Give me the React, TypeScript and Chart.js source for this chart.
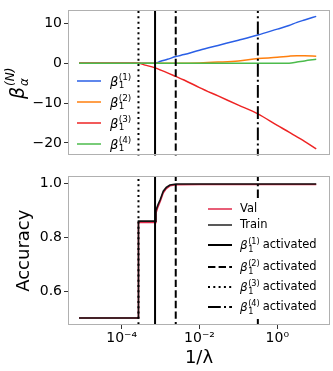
import React, { useEffect, useRef } from "react";
import { Chart, registerables } from "chart.js";

Chart.register(...registerables);

// ---- data ----
const lambdaInv = [8e-6, 3e-5, 1e-4, 2.7e-4, 4e-4, 7.2e-4, 1e-3, 1.5e-3, 2.45e-3, 4e-3, 1e-2, 3e-2, 0.1, 0.316, 1, 2, 3.2, 5, 10];
const beta1 = [0, 0, 0, 0, 0, 0, 0.5, 1.0, 1.7, 2.2, 3.3, 4.5, 5.8, 7.1, 8.6, 9.5, 10.3, 10.9, 11.8];
const beta2 = [0, 0, 0, 0, 0, 0, 0, 0, 0, 0.03, 0.1, 0.3, 0.6, 1.2, 1.5, 1.8, 1.92, 1.9, 1.8];
const beta3 = [0, 0, 0, 0, -0.45, -1.15, -1.7, -2.4, -3.3, -4.2, -6.1, -8.2, -10.5, -12.7, -15.6, -17.3, -18.5, -19.6, -21.5];
const beta4 = [0, 0, 0, 0, 0, 0, 0, 0, 0, 0, 0, 0, 0, 0, 0, 0.02, 0.3, 0.6, 1.0];

const accX = [8e-6, 2.7e-4, 2.7e-4, 7.2e-4, 7.6e-4, 8.5e-4, 9.8e-4, 1.17e-3, 1.4e-3, 1.74e-3, 2.5e-3, 1e-2, 0.1, 1, 10];
const trainAcc = [0.5, 0.5, 0.86, 0.86, 0.9, 0.92, 0.94, 0.971, 0.985, 0.994, 0.998, 0.998, 0.998, 0.998, 0.998];
const valAcc = [0.5, 0.5, 0.855, 0.855, 0.89, 0.912, 0.934, 0.965, 0.981, 0.991, 0.995, 0.996, 0.996, 0.996, 0.996];

// activation points of beta_1^(1..4)
const activation = [7.2e-4, 2.45e-3, 2.7e-4, 0.316];

const xTicks = [1e-4, 1e-2, 1];
const xTickLabels = ["10\u207B\u2074", "10\u207B\u00B2", "10\u2070"];
const betaTicks = [-20, -10, 0, 10];
const betaTickLabels = ["\u221220", "\u221210", "0", "10"];
const accTicks = [0.6, 0.8, 1.0];
const accTickLabels = ["0.6", "0.8", "1.0"];

const betaNames = ["1", "2", "3", "4"];
const betaColors = ["#2a5fe6", "#ff7f0e", "#ee2424", "#4cbb4c"];
const actDashes: number[][] = [[], [7.4, 3.2], [2, 3.3], [12.8, 3.2, 2, 3.2]];

const X_MIN = 4.17e-6;
const X_MAX = 22.6;
const FONT = "DejaVu Sans";

function drawBeta(ctx: CanvasRenderingContext2D, x: number, y: number, k: string, size: number) {
  ctx.save();
  ctx.fillStyle = "#000";
  ctx.textBaseline = "alphabetic";
  ctx.textAlign = "left";
  ctx.font = `italic ${size}px ${FONT}`;
  ctx.fillText("\u03B2", x, y + size * 0.36);
  const w = ctx.measureText("\u03B2").width;
  const s = size * 0.68;
  ctx.font = `${s}px ${FONT}`;
  ctx.fillText("(" + k + ")", x + w + 0.5, y - size * 0.08);
  ctx.fillText("1", x + w + 0.5, y + size * 0.55);
  const w2 = ctx.measureText("(" + k + ")").width;
  ctx.restore();
  return x + w + 0.5 + w2;
}

const framePlugin = {
  id: "frame",
  afterDraw(chart: any) {
    const { ctx, chartArea } = chart;
    ctx.save();
    ctx.strokeStyle = "#b0b0b0";
    ctx.lineWidth = 1;
    ctx.strokeRect(Math.round(chartArea.left) + 0.5, Math.round(chartArea.top) + 0.5,
      Math.round(chartArea.right - chartArea.left) - 1, Math.round(chartArea.bottom - chartArea.top) - 1);
    ctx.restore();
  },
};

const topLegendPlugin = {
  id: "topLegend",
  afterDatasetsDraw(chart: any) {
    const ctx = chart.ctx as CanvasRenderingContext2D;
    const ys = [81, 102, 123, 144];
    ctx.save();
    betaNames.forEach((k, i) => {
      ctx.strokeStyle = betaColors[i];
      ctx.lineWidth = 1.5;
      ctx.setLineDash([]);
      ctx.beginPath();
      ctx.moveTo(77, ys[i]);
      ctx.lineTo(101, ys[i]);
      ctx.stroke();
      drawBeta(ctx, 110, ys[i], k, 13);
    });
    // y-axis title
    ctx.translate(24, 83);
    ctx.rotate(-Math.PI / 2);
    ctx.fillStyle = "#000";
    ctx.textBaseline = "alphabetic";
    ctx.font = `italic 19px ${FONT}`;
    const bw = ctx.measureText("\u03B2").width;
    const total = bw + 20;
    const x0 = -total / 2;
    ctx.textAlign = "left";
    ctx.fillText("\u03B2", x0, 0);
    ctx.font = `italic 12px ${FONT}`;
    ctx.fillText("\u03B1", x0 + bw + 1, 4);
    ctx.fillText("(N)", x0 + bw + 1, -10);
    ctx.restore();
  },
};

const bottomLegendPlugin = {
  id: "bottomLegend",
  afterDatasetsDraw(chart: any) {
    const ctx = chart.ctx as CanvasRenderingContext2D;
    const off = 166;
    ctx.save();
    ctx.fillStyle = "#fff";
    ctx.fillRect(203, 198 - off, 124, 121);
    const items = [
      { y: 209, color: "#e0284a", dash: [] as number[], lw: 1.5, label: "Val" },
      { y: 225, color: "#222", dash: [] as number[], lw: 1.5, label: "Train" },
      { y: 245, color: "#000", dash: actDashes[0], lw: 2, beta: "1" },
      { y: 267, color: "#000", dash: actDashes[1], lw: 2, beta: "2" },
      { y: 287, color: "#000", dash: actDashes[2], lw: 2, beta: "3" },
      { y: 307, color: "#000", dash: actDashes[3], lw: 2, beta: "4" },
    ] as any[];
    items.forEach((it) => {
      const y = it.y - off;
      ctx.strokeStyle = it.color;
      ctx.lineWidth = it.lw;
      ctx.setLineDash(it.dash);
      ctx.beginPath();
      ctx.moveTo(208, y);
      ctx.lineTo(232, y);
      ctx.stroke();
      ctx.setLineDash([]);
      if (it.label) {
        ctx.fillStyle = "#000";
        ctx.font = `11.5px ${FONT}`;
        ctx.textBaseline = "middle";
        ctx.textAlign = "left";
        ctx.fillText(it.label, 240, y);
      } else {
        const xe = drawBeta(ctx, 240, y, it.beta, 12);
        ctx.fillStyle = "#000";
        ctx.font = `11.5px ${FONT}`;
        ctx.textBaseline = "middle";
        ctx.textAlign = "left";
        ctx.fillText("activated", xe + 3, y);
      }
    });
    ctx.restore();
  },
};

function vLines(yLo: number, yHi: number) {
  return activation.map((a, i) => ({
    data: [{ x: a, y: yLo }, { x: a, y: yHi }],
    borderColor: "#000",
    borderWidth: 2,
    borderDash: actDashes[i],
    pointRadius: 0,
    order: 0,
  }));
}

function fixedYAxis(min: number, max: number, ticks: number[], labels: string[], title?: any) {
  return {
    type: "linear",
    min,
    max,
    afterFit: (s: any) => { s.width = 68; },
    afterBuildTicks: (s: any) => { s.ticks = ticks.map((v) => ({ value: v })); },
    ticks: {
      callback: (v: number) => labels[ticks.indexOf(v)] ?? "",
      font: { family: FONT, size: 14 },
      color: "#000",
      padding: 2,
    },
    grid: { drawOnChartArea: false, drawTicks: true, tickLength: 4, tickColor: "#333" },
    border: { display: false },
    title: title ?? { display: false },
  };
}

export default function App() {
  const topRef = useRef<HTMLCanvasElement>(null);
  const botRef = useRef<HTMLCanvasElement>(null);

  useEffect(() => {
    document.body.style.margin = "0";
    const betas = [beta1, beta2, beta3, beta4];
    const top = new Chart(topRef.current!, {
      type: "line",
      data: {
        datasets: [
          ...vLines(-30, 20),
          ...betas.map((b, i) => ({
            data: lambdaInv.map((x, j) => ({ x, y: b[j] })),
            borderColor: betaColors[i],
            borderWidth: 1.5,
            pointRadius: 0,
            cubicInterpolationMode: "monotone",
            order: 4 - i,
          })),
        ],
      } as any,
      options: {
        animation: false,
        responsive: false,
        layout: { padding: { top: 4, right: 3, bottom: 4, left: 0 } },
        plugins: { legend: { display: false }, tooltip: { enabled: false } },
        scales: {
          x: { type: "logarithmic", min: X_MIN, max: X_MAX, display: false },
          y: fixedYAxis(-23.2, 13.3, betaTicks, betaTickLabels),
        },
      } as any,
      plugins: [framePlugin, topLegendPlugin],
    });

    const bot = new Chart(botRef.current!, {
      type: "line",
      data: {
        datasets: [
          ...vLines(0.3, 1.2),
          {
            data: accX.map((x, j) => ({ x, y: trainAcc[j] })),
            borderColor: "#111",
            borderWidth: 1.6,
            pointRadius: 0,
            order: 1,
          },
          {
            data: accX.map((x, j) => ({ x, y: valAcc[j] })),
            borderColor: "#e0284a",
            borderWidth: 1.6,
            pointRadius: 0,
            order: 2,
          },
        ],
      } as any,
      options: {
        animation: false,
        responsive: false,
        layout: { padding: { top: 1, right: 3, bottom: 0, left: 0 } },
        plugins: { legend: { display: false }, tooltip: { enabled: false } },
        scales: {
          x: {
            type: "logarithmic",
            min: X_MIN,
            max: X_MAX,
            afterFit: (s: any) => { s.height = 46; },
            afterBuildTicks: (s: any) => { s.ticks = xTicks.map((v) => ({ value: v })); },
            ticks: {
              autoSkip: false,
              maxRotation: 0,
              callback: (v: number) => xTickLabels[xTicks.findIndex((t) => Math.abs(t - v) / t < 1e-6)] ?? "",
              font: { family: FONT, size: 14 },
              color: "#000",
              padding: 1,
            },
            grid: { drawOnChartArea: false, drawTicks: true, tickLength: 4, tickColor: "#333" },
            border: { display: false },
            title: {
              display: true,
              text: "1/\u03BB",
              font: { family: FONT, size: 18 },
              color: "#000",
              padding: { top: 0, bottom: 2 },
            },
          },
          y: fixedYAxis(0.474, 1.026, accTicks, accTickLabels, {
            display: true,
            text: "Accuracy",
            font: { family: FONT, size: 18 },
            color: "#000",
            padding: { top: 14, bottom: 0 },
          }),
        },
      } as any,
      plugins: [framePlugin, bottomLegendPlugin],
    });

    return () => {
      top.destroy();
      bot.destroy();
    };
  }, []);

  return (
    <div style={{ position: "fixed", left: 0, top: 0, width: 333, height: 371, background: "#fff" }}>
      <canvas ref={topRef} width={333} height={166} style={{ position: "absolute", left: 0, top: 0, display: "block" }} />
      <canvas ref={botRef} width={333} height={205} style={{ position: "absolute", left: 0, top: 166, display: "block" }} />
    </div>
  );
}
